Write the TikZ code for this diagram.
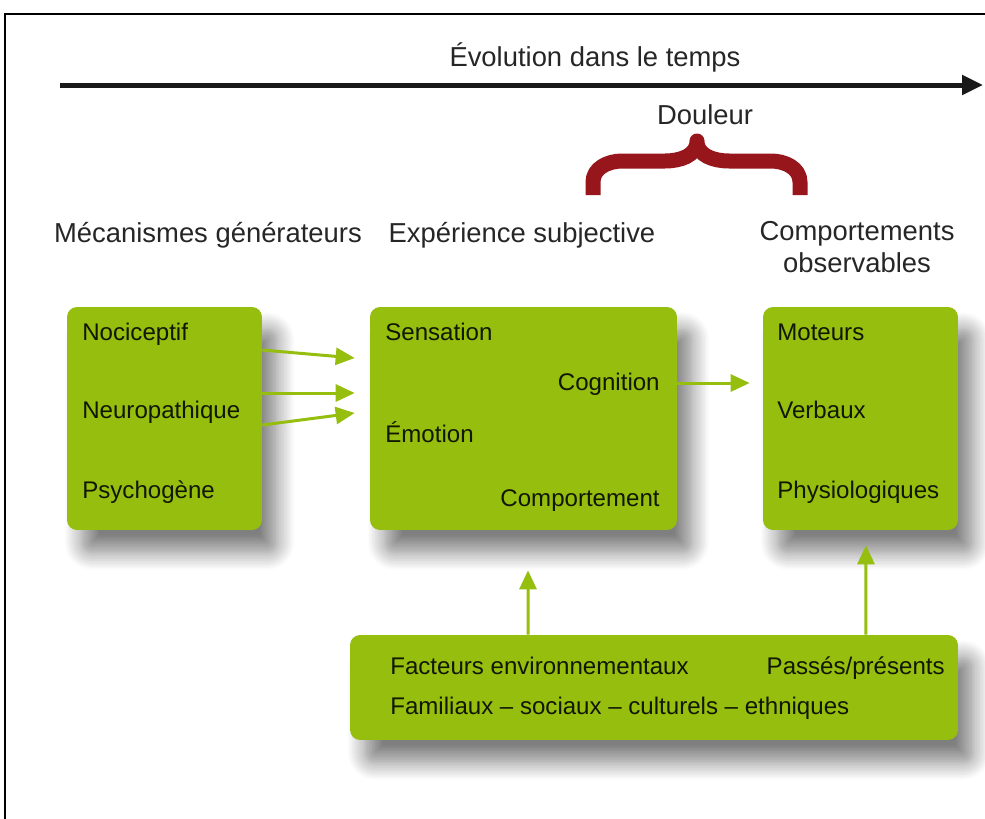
\documentclass[tikz,border=0pt]{standalone}
\usepackage{fontspec}
\setmainfont{Liberation Sans}
\usepackage{xcolor}
\usetikzlibrary{arrows.meta}
\usetikzlibrary{shadows.blur}
\definecolor{vertboite}{RGB}{149,190,15}
\definecolor{rougeacc}{RGB}{150,22,28}

\begin{document}
\begin{tikzpicture}[x=0.02cm,y=-0.02cm,
	titre/.style={font=\fontsize{15.6}{18}\selectfont, inner sep=0pt, text=black!85},
	item/.style={font=\fontsize{13.7}{16}\selectfont, inner sep=0pt, text=black!80!vertboite!60!black},
	boite/.style={fill=vertboite, rounded corners=0.2cm, minimum height=4.46cm, inner sep=0pt,
		blur shadow={shadow xshift=0.3cm, shadow yshift=-0.45cm, shadow blur radius=0.35cm, shadow opacity=50, shadow blur steps=12}},
	fleche/.style={draw=vertboite, line width=0.06cm, -{Triangle[length=0.38cm,width=0.34cm]}}]
			\useasboundingbox (0,0) rectangle (985,819);
			\draw[black, line width=0.04cm] (985,14) -- (5,14) -- (5,819);

			\coordinate (t0) at (60,85);
			\coordinate (t1) at (983,85);
			\draw[black!90, line width=0.1cm, -{Triangle[length=0.42cm,width=0.38cm]}] (t0) -- (t1);
			\node[titre, anchor=base] (evol) at (595,66) {Évolution dans le temps};

			\node[titre, anchor=base] (douleur) at (705,124) {Douleur};
			\draw[rougeacc, line width=0.3cm, line cap=butt, line join=round]
				(593,195) -- (593,182) to[out=90,in=180] (622,161) -- (665,161) to[out=0,in=-90] (697,141)
				to[out=-90,in=180] (729,161) -- (771,161) to[out=0,in=90] (800,182) -- (800,195);

			\node[titre, anchor=base] (meca) at (208,242) {Mécanismes générateurs};
			\node[titre, anchor=base] (expe) at (522,242) {Expérience subjective};
			\node[titre, anchor=base, align=center] (comp) at (857,272) {Comportements\\observables};

			\node[boite, minimum width=3.9cm] (gen) at (164.5,418.5) {};
			\node[boite, minimum width=6.14cm] (subj) at (523.5,418.5) {};
			\node[boite, minimum width=3.9cm] (obs) at (860.5,418.5) {};
			\node[boite, minimum width=12.16cm, minimum height=2.1cm] (env) at (654,687.5) {};

			\node[item, anchor=base west] (noci) at (82,340) {Nociceptif};
			\node[item, anchor=base west] (neuro) at (82,418) {Neuropathique};
			\node[item, anchor=base west] (psy) at (82,498) {Psychogène};

			\node[item, anchor=base west] (sens) at (385,340) {Sensation};
			\node[item, anchor=base east] (cogn) at (660,390) {Cognition};
			\node[item, anchor=base west] (emo) at (385,442) {Émotion};
			\node[item, anchor=base east] (compt) at (660,506) {Comportement};

			\node[item, anchor=base west] (mot) at (777,340) {Moteurs};
			\node[item, anchor=base west] (verb) at (777,418) {Verbaux};
			\node[item, anchor=base west] (physio) at (777,498) {Physiologiques};

			\node[item, anchor=base west] (fact) at (390,674) {Facteurs environnementaux};
			\node[item, anchor=base east] (pass) at (945,674) {Passés/présents};
			\node[item, anchor=base west] (fam) at (390,714) {Familiaux – sociaux – culturels – ethniques};

			\draw[fleche] ([yshift=1.37cm]gen.east) -- ([xshift=-0.3cm,yshift=1.21cm]subj.west);
			\draw[fleche] ([yshift=0.51cm]gen.east) -- ([xshift=-0.3cm,yshift=0.51cm]subj.west);
			\draw[fleche] ([yshift=-0.13cm]gen.east) -- ([xshift=-0.3cm,yshift=0.11cm]subj.west);
			\draw[fleche] ([yshift=0.71cm]subj.east) -- ([xshift=-0.26cm,yshift=0.71cm]obs.west);

			\draw[fleche] ([xshift=-2.52cm]env.north) -- ([xshift=0.09cm,yshift=-0.8cm]subj.south);
			\draw[fleche] ([xshift=4.24cm]env.north) -- ([xshift=0.11cm,yshift=-0.3cm]obs.south);
		\end{tikzpicture}
\end{document}
